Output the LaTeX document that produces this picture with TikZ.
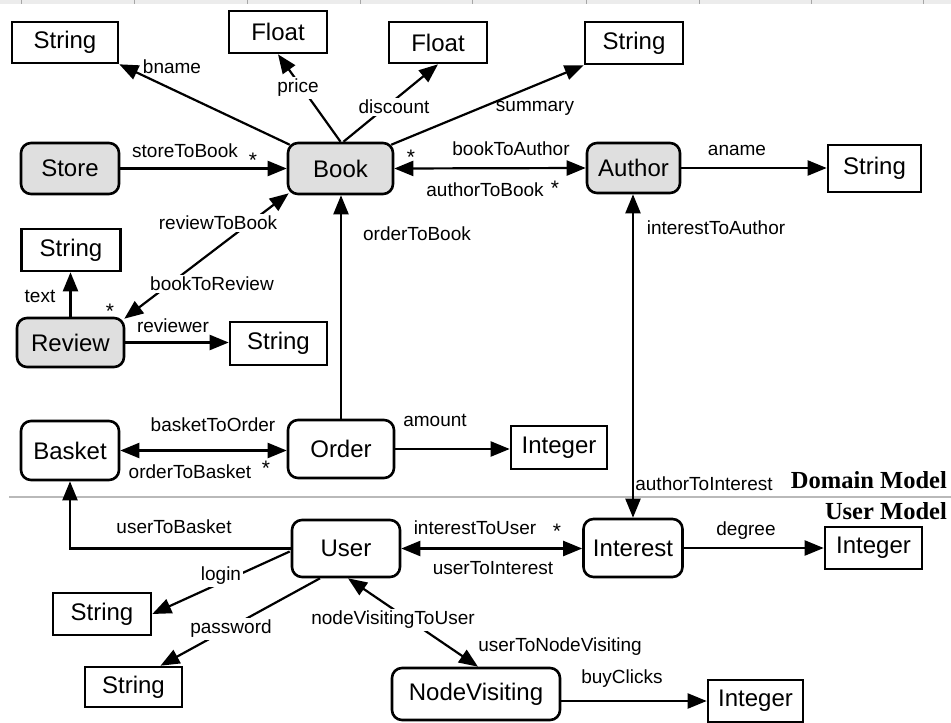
\documentclass[tikz,border=0pt]{standalone}
\usepackage{fontspec}
\setmainfont{Liberation Sans}
\newfontfamily\titlefont{Liberation Serif}
\usetikzlibrary{arrows.meta}

\begin{document}
\begin{tikzpicture}[x=1pt, y=-1pt,
  boxtext/.style={font=\fontsize{24}{26}\selectfont},
  cls/.style={boxtext, draw, line width=2.6pt, rounded corners=10pt, fill=white, inner sep=0pt},
  domcls/.style={cls, fill=gray!25},
  typ/.style={boxtext, draw, line width=2.6pt, fill=white, inner sep=0pt},
  lbl/.style={font=\fontsize{19}{21}\selectfont, inner sep=1pt},
  wlbl/.style={lbl, fill=white, inner sep=2pt},
  star/.style={font=\fontsize{21}{23}\selectfont, inner sep=0pt},
  conn/.style={line width=2.2pt, -{Triangle[length=19pt, width=15pt]}},
  biconn/.style={line width=2.2pt, {Triangle[length=19pt, width=15pt]}-{Triangle[length=19pt, width=15pt]}},
  modeltitle/.style={font=\titlefont\bfseries\fontsize{24.5}{26}\selectfont, inner sep=0pt, anchor=east}
]
\useasboundingbox (0,0) rectangle (951,723);

% ruler strip along the top edge
\fill[gray!15] (0,0) rectangle (951,4);
\foreach \tx in {21,134,247,360,472,586,699,811,923}
  \draw[gray!70, line width=0.8pt] (\tx,0) -- (\tx,4);

% separator between the two models
\coordinate (sepL) at (9,497);
\coordinate (sepR) at (951,497);
\draw[gray!55, line width=1.5pt] (sepL) -- (sepR);
\node[modeltitle] (domTitle) at (947,480) {Domain Model};
\node[modeltitle] (usrTitle) at (947,511) {User Model};

% ---------- domain model ----------
\node[typ, minimum width=106pt, minimum height=41pt] (sBname) at (65,42.5) {String};
\node[typ, minimum width=98pt, minimum height=42pt] (fPrice) at (278,32) {Float};
\node[typ, minimum width=98pt, minimum height=41pt] (fDisc) at (438,42.5) {Float};
\node[typ, minimum width=98pt, minimum height=42pt] (sSumm) at (634,43) {String};

\node[domcls, minimum width=98pt, minimum height=51pt] (store) at (70,168.5) {Store};
\node[domcls, minimum width=105pt, minimum height=51pt] (book) at (340.5,168.5) {Book};
\node[domcls, minimum width=93pt, minimum height=50pt] (author) at (633.5,168) {Author};
\node[typ, minimum width=93pt, minimum height=47pt] (sAname) at (874.5,168.5) {String};

\node[typ, minimum width=99pt, minimum height=42pt] (sText) at (71,250) {String};
\node[domcls, minimum width=107pt, minimum height=49pt] (review) at (70.5,342.5) {Review};
\node[typ, minimum width=97pt, minimum height=43pt] (sReviewer) at (278.5,343.5) {String};

\node[cls, minimum width=98pt, minimum height=59pt] (basket) at (70,450.5) {Basket};
\node[cls, minimum width=106pt, minimum height=58pt] (order) at (341,449) {Order};
\node[typ, minimum width=96pt, minimum height=43pt] (iAmount) at (559,447.5) {Integer};

% ---------- user model ----------
\node[cls, minimum width=108pt, minimum height=57pt] (user) at (346,548.5) {User};
\node[cls, minimum width=99pt, minimum height=58pt] (interest) at (633,548) {Interest};
\node[typ, minimum width=97pt, minimum height=42pt] (iDegree) at (873.5,548) {Integer};
\node[typ, minimum width=98pt, minimum height=42pt] (sLogin) at (102,614) {String};
\node[typ, minimum width=97pt, minimum height=40pt] (sPass) at (133.5,687) {String};
\node[cls, minimum width=168pt, minimum height=52pt] (nodeVis) at (476,694) {NodeVisiting};
\node[typ, minimum width=95pt, minimum height=42pt] (iClicks) at (755.5,701) {Integer};

% ---------- connectors ----------
\draw[conn] ([shift={(3,3)}]book.north west) -- (sBname.south east);
\draw[conn] (book.north) -- (fPrice.south);
\draw[conn] ([xshift=3pt]book.north) -- (fDisc.south);
\draw[conn] ([shift={(-3,3)}]book.north east) -- (sSumm.south west);
\draw[conn] (store.east) -- (book.west);
\draw[biconn] (book.east) -- (author.west);
\draw[conn] (author.east) -- (author.east -| sAname.west);
\draw[biconn] ([shift={(-1,2)}]review.north east) -- ([shift={(2,-2)}]book.south west);
\draw[conn] (review.north) -- (review.north |- sText.south);
\draw[conn] (review.east) -- (review.east -| sReviewer.west);
\draw[conn] (order.north) -- (order.north |- book.south);
\draw[biconn] (basket.east) -- (basket.east -| order.west);
\draw[conn] (order.east) -- (order.east -| iAmount.west);
\draw[biconn] (interest.north) -- (interest.north |- author.south);

\draw[conn] (user.west) -| (basket.south);
\draw[biconn] (user.east) -- (user.east -| interest.west);
\draw[conn] (interest.east) -- (interest.east -| iDegree.west);
\draw[conn] ([shift={(-1,3)}]user.west) -- (sLogin.east);
\draw[conn] ([xshift=-26pt]user.south) -- ([xshift=27pt]sPass.north);
\draw[biconn] ([xshift=2pt]user.south) -- ([xshift=2pt]nodeVis.north);
\draw[conn] (nodeVis.east |- iClicks.west) -- (iClicks.west);

% ---------- connector labels ----------
\node[lbl] (lBname) at (172,67) {bname};
\node[wlbl] (lPrice) at (298,88) {price};
\node[wlbl] (lDisc) at (394,107) {discount};
\node[lbl] (lSumm) at (535,108) {summary};
\node[lbl] (lStoreBook) at (185,151) {storeToBook};
\node[star] (stStore) at (253,160) {*};
\node[lbl] (lBookAuth) at (511,149) {bookToAuthor};
\node[star] (stBook) at (411,157) {*};
\node[lbl] (lAuthBook) at (485,190) {authorToBook};
\node[star] (stAuth) at (555,188) {*};
\node[lbl] (lAname) at (737,150) {aname};
\node[wlbl] (lRevBook) at (218,223) {reviewToBook};
\node[wlbl] (lBookRev) at (212,284) {bookToReview};
\node[star] (stRev) at (110,311) {*};
\node[lbl] (lText) at (40,296) {text};
\node[lbl] (lReviewer) at (173,326) {reviewer};
\node[lbl] (lOrderBook) at (417,234) {orderToBook};
\node[lbl] (lBasketOrder) at (213,425) {basketToOrder};
\node[lbl] (lOrderBasket) at (190,472) {orderToBasket};
\node[star] (stOrder) at (266,468) {*};
\node[lbl] (lAmount) at (435,420) {amount};
\node[lbl] (lIntAuth) at (716,228) {interestToAuthor};
\node[lbl] (lAuthInt) at (704,484) {authorToInterest};

\node[lbl] (lUserBasket) at (174,527) {userToBasket};
\node[lbl] (lIntUser) at (475,528) {interestToUser};
\node[star] (stInt) at (557,531) {*};
\node[lbl] (lUserInt) at (493,568) {userToInterest};
\node[lbl] (lDegree) at (746,531) {degree};
\node[wlbl] (lLogin) at (221,576) {login};
\node[wlbl] (lPass) at (231,629) {password};
\node[wlbl] (lNodeUser) at (393,620) {nodeVisitingToUser};
\node[lbl] (lUserNode) at (560,647) {userToNodeVisiting};
\node[lbl] (lClicks) at (622,679) {buyClicks};
\end{tikzpicture}
\end{document}
